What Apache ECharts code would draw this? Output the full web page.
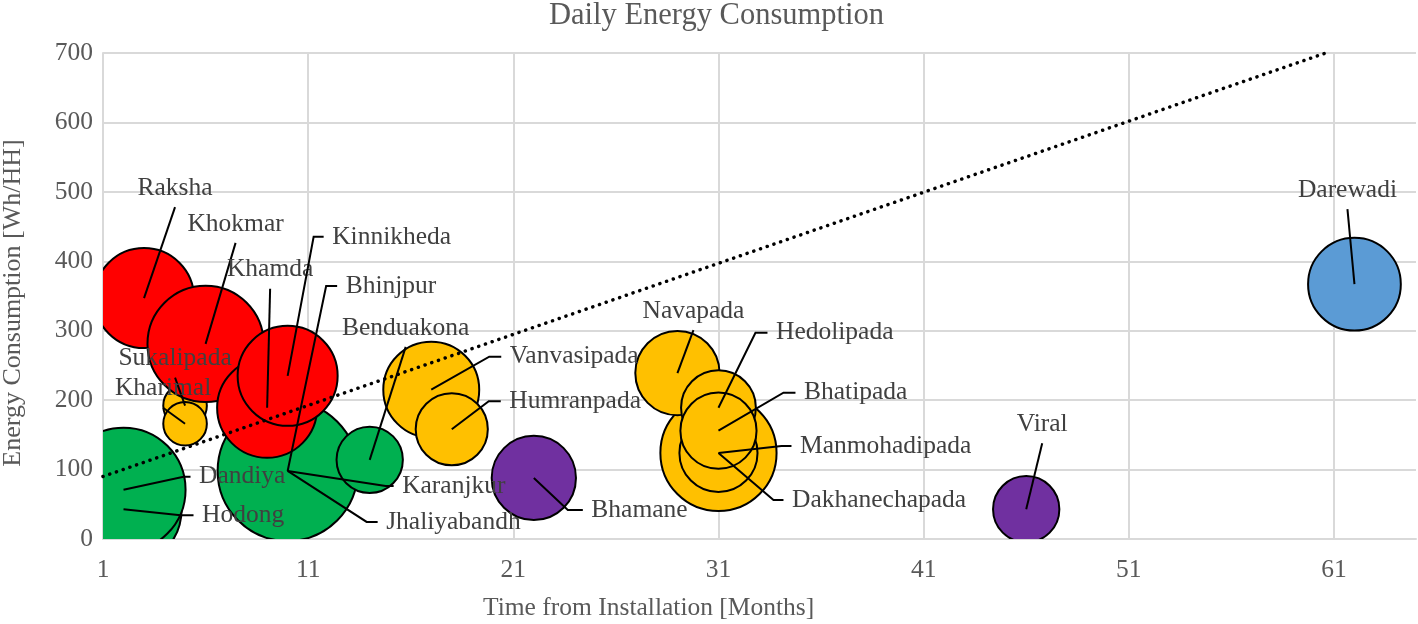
<!DOCTYPE html>
<html>
<head>
<meta charset="utf-8">
<script src="https://cdn.jsdelivr.net/npm/echarts/dist/echarts.min.js"></script>
<style>
html,body{margin:0;padding:0;background:#ffffff;}
#chart{width:1418px;height:624px;}
</style>
</head>
<body>
<div id="chart"></div>
<script>
// ---- data (drawing order = layering order) ----
const villages = ["Raksha","Sukalipada","Khokmar","Kharimal","Hodong","Dandiya","Bhinjpur","Karanjkur","Jhaliyabandh","Khamda","Kinnikheda","Benduakona","Vanvasipada","Humranpada","Bhamane","Manmohadipada","Navapada","Dakhanechapada","Hedolipada","Bhatipada","Viral","Darewadi"];
const months   = [3, 5, 6, 5, 2, 2, 10, 10, 10, 9, 10, 14, 17, 18, 22, 31, 29, 31, 31, 31, 46, 62];
const energy   = [347, 192, 281, 166, 43, 71, 98, 98, 98, 189, 235, 114, 215, 158, 88, 124, 239, 124, 189, 156, 43, 367];
const bubbleSize = [100, 19, 135, 19, 135, 154, 60, 100, 196, 100, 100, 44, 92, 52, 71, 135, 71, 61, 56, 58, 44, 86];
const groups   = ["red","yellow","red","yellow","green","green","green","green","green","red","red","green","yellow","yellow","purple","yellow","yellow","yellow","yellow","yellow","purple","blue"];
const trendX = [1, 60.6];
const trendY = [90, 700];
const xTicks = {min: 1, max: 65, interval: 10};
const yTicks = {min: 0, max: 700, interval: 100};

// ---- styles / label layout (pixels, kept apart from the data) ----
const groupColors = {red:"#FF0000", yellow:"#FFC000", green:"#00B050", purple:"#7030A0", blue:"#5B9BD5"};
// [dx, dy, elbow] leader-line end relative to bubble centre; elbow 0 => label above
const labelLayout = [
  [31,-91,0],[-10,-28,0],[30,-101,0],[-22,-16,0],[57,6,13],[60,-13,7],
  [38.5,-185,11],[98,15,8],[79,51,11],[3,-119,0],[26,-139,10],[36,-113,0],
  [58,-33,12],[37,-28,12],[34,32,15],[63,-7,10],[16,-43,0],[55,47,10],
  [37,-75,12],[65,-38,12],[16,-66,0],[-7,-75,0]
];
const FONT = "'Liberation Serif','Times New Roman',serif";
const GRID = {left:103, right:2, top:53, bottom:85, containLabel:false, outerBoundsMode:'none'};

const bubbleData = villages.map((v,i)=>({name: v, value: [months[i], energy[i], bubbleSize[i]]}));
const labelData = villages.map((v,i)=>({name:v, value:[months[i], energy[i]]}));

const chart = echarts.init(document.getElementById('chart'), null, {renderer:'canvas'});
chart.setOption({
  animation: false,
  backgroundColor: '#ffffff',
  title: [
    {text:'Daily Energy Consumption', left:549, top:-2, padding:0,
     textStyle:{fontFamily:FONT, fontSize:30.5, fontWeight:'normal', color:'#595959', lineHeight:36}},
    {text:'Time from Installation [Months]', left:483, top:593, padding:0,
     textStyle:{fontFamily:FONT, fontSize:25.5, fontWeight:'normal', color:'#595959', lineHeight:30}}
  ],
  grid: GRID,
  xAxis: {
    type:'value', min:xTicks.min, max:xTicks.max, interval:xTicks.interval,
    axisLine:{show:true, lineStyle:{color:'#d9d9d9', width:2}},
    axisTick:{show:false},
    axisLabel:{color:'#595959', fontFamily:FONT, fontSize:25.5, margin:18, showMaxLabel:false},
    splitLine:{show:true, showMaxLine:false, lineStyle:{color:'#d9d9d9', width:2}}
  },
  yAxis: {
    type:'value', min:yTicks.min, max:yTicks.max, interval:yTicks.interval,
    name:'Energy Consumption [Wh/HH]', nameLocation:'middle', nameGap:77,
    nameTextStyle:{color:'#595959', fontFamily:FONT, fontSize:26, padding:[0,14,0,0]},
    axisLine:{show:true, lineStyle:{color:'#d9d9d9', width:2}},
    axisTick:{show:false},
    axisLabel:{color:'#595959', fontFamily:FONT, fontSize:25.5, margin:10},
    splitLine:{show:true, lineStyle:{color:'#d9d9d9', width:2}}
  },
  series: [
    {
      type:'custom', z:2, silent:true,
      data: bubbleData,
      renderItem: function(params, api){
        const i = params.dataIndex;
        const c = api.coord([api.value(0), api.value(1)]);
        const r = 5*Math.sqrt(api.value(2));
        const cs = params.coordSys;
        return {
          type:'circle',
          shape:{cx:c[0], cy:c[1], r:r},
          style:{fill:groupColors[groups[i]], stroke:'#000000', lineWidth:2},
          clipPath:{type:'rect', shape:{x:cs.x, y:cs.y, width:cs.width, height:cs.height}}
        };
      }
    },
    {
      type:'line', z:3,
      data: trendX.map((x,i)=>[x, trendY[i]]),
      symbol:'none', silent:true, clip:true,
      lineStyle:{color:'#000000', width:3.5, type:[0.1,7], cap:'round'}
    },
    {
      type:'custom', z:4, silent:true,
      data: labelData,
      renderItem: function(params, api){
        const i = params.dataIndex;
        const c = api.coord([api.value(0), api.value(1)]);
        const L = labelLayout[i];
        const ex = c[0]+L[0], ey = c[1]+L[1];
        const pts = [[c[0],c[1]],[ex,ey]];
        let tx, ty, align;
        if (L[2] > 0) {
          pts.push([ex+L[2], ey]);
          tx = ex + L[2] + 8.5; ty = ey; align = 'left';
        } else {
          tx = ex; ty = ey - 19; align = 'center';
        }
        return {
          type:'group',
          children:[
            {type:'polyline', shape:{points:pts}, style:{stroke:'#000000', lineWidth:2, fill:null}},
            {type:'text', x:tx, y:ty, style:{text:villages[i], fill:'#404040', font:'25.5px '+FONT, align:align, verticalAlign:'middle'}}
          ]
        };
      }
    }
  ]
});
</script>
</body>
</html>
